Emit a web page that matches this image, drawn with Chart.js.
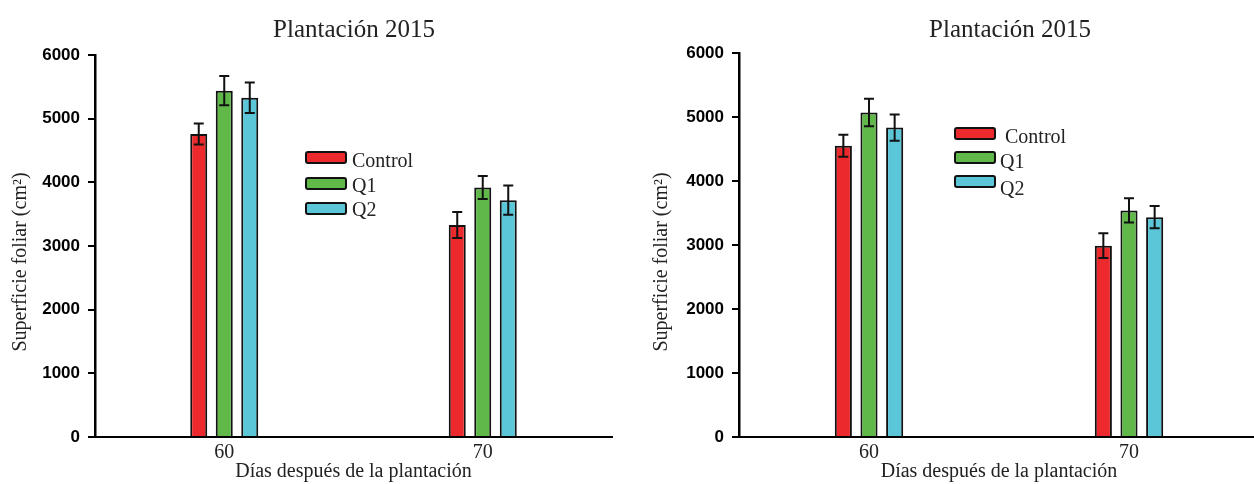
<!DOCTYPE html>
<html>
<head>
<meta charset="utf-8">
<script src="https://cdn.jsdelivr.net/npm/chart.js@4.4.1/dist/chart.umd.min.js"></script>
<style>
  html, body { margin: 0; padding: 0; background: #fff; overflow: hidden; width: 1254px; height: 484px; }
  canvas { position: absolute; top: 0; }
  #leftChart { left: 0; }
  #rightChart { left: 627px; }
</style>
</head>
<body>
<canvas id="leftChart" width="627" height="484"></canvas>
<canvas id="rightChart" width="640" height="484"></canvas>
<script>
// categories / labels
const days = ['60', '70'];
const seriesNames = ['Control', 'Q1', 'Q2'];
const yTicks = [0, 1000, 2000, 3000, 4000, 5000, 6000];
const panelTitle = 'Plantación 2015';
const xTitle = 'Días después de la plantación';
const yTitle = 'Superficie foliar (cm²)';

// left panel (means and error half-widths)
const leftControl = [4760, 3330];
const leftQ1 = [5440, 3920];
const leftQ2 = [5330, 3720];
const leftControlErr = [165, 205];
const leftQ1Err = [230, 180];
const leftQ2Err = [240, 230];

// right panel
const rightControl = [4550, 2990];
const rightQ1 = [5070, 3540];
const rightQ2 = [4835, 3435];
const rightControlErr = [172, 195];
const rightQ1Err = [215, 190];
const rightQ2Err = [205, 175];

const COLORS = ['#ec2a2d', '#5fb847', '#5bc6d8'];
const SERIF = '"Liberation Serif", "Times New Roman", serif';

// error bars drawn from dataset.err through the y scale
const errorBars = {
    id: 'errorBars',
    afterDatasetsDraw(chart) {
        const ctx = chart.ctx;
        const y = chart.scales.y;
        ctx.save();
        ctx.strokeStyle = '#111';
        ctx.lineWidth = 2;
        chart.data.datasets.forEach((ds, i) => {
            const meta = chart.getDatasetMeta(i);
            meta.data.forEach((bar, j) => {
                const v = ds.data[j], e = ds.err[j];
                const top = y.getPixelForValue(v + e);
                const bot = y.getPixelForValue(v - e);
                const cap = 5;
                ctx.beginPath();
                ctx.moveTo(bar.x, top); ctx.lineTo(bar.x, bot);
                ctx.moveTo(bar.x - cap, top); ctx.lineTo(bar.x + cap, top);
                ctx.moveTo(bar.x - cap, bot); ctx.lineTo(bar.x + cap, bot);
                ctx.stroke();
            });
        });
        ctx.restore();
    }
};

// title, rotated y title and the boxed legend
const panelDeco = {
    id: 'panelDeco',
    afterDraw(chart, args, opts) {
        const ctx = chart.ctx;
        ctx.save();
        ctx.fillStyle = '#222';
        ctx.textAlign = 'center';
        ctx.textBaseline = 'alphabetic';
        ctx.font = '25px ' + SERIF;
        ctx.fillText(panelTitle, opts.titleX, opts.titleY);

        ctx.save();
        ctx.translate(opts.yTitleX, opts.yTitleY);
        ctx.rotate(-Math.PI / 2);
        ctx.textBaseline = 'middle';
        ctx.font = '20px ' + SERIF;
        ctx.fillText(yTitle, 0, 0);
        ctx.restore();

        // legend
        ctx.textAlign = 'left';
        ctx.font = '20px ' + SERIF;
        chart.data.datasets.forEach((ds, i) => {
            const by = opts.boxYs[i];
            ctx.beginPath();
            ctx.roundRect(opts.boxX, by, 40, 11, 2);
            ctx.fillStyle = ds.backgroundColor;
            ctx.fill();
            ctx.lineWidth = 2;
            ctx.strokeStyle = '#111';
            ctx.stroke();
            ctx.fillStyle = '#222';
            ctx.fillText(ds.label, opts.textXs[i], opts.textYs[i]);
        });
        ctx.restore();
    }
};

function makeChart(id, series, errs, padding, deco) {
    return new Chart(document.getElementById(id), {
        type: 'bar',
        data: {
            labels: days,
            datasets: seriesNames.map((name, i) => ({
                label: name,
                data: series[i],
                err: errs[i],
                backgroundColor: COLORS[i],
                borderColor: '#111',
                borderWidth: 2,
                barPercentage: 0.667,
                categoryPercentage: 0.296
            }))
        },
        options: {
            responsive: false,
            animation: false,
            layout: { padding: padding },
            plugins: {
                legend: { display: false },
                tooltip: { enabled: false },
                panelDeco: deco
            },
            scales: {
                x: {
                    grid: { display: false, drawTicks: false },
                    border: { display: true, color: '#000', width: 2 },
                    ticks: { color: '#222', padding: 4, font: { family: SERIF, size: 20 } },
                    title: { display: true, text: xTitle, color: '#222', padding: 0, font: { family: SERIF, size: 20 } },
                    afterFit: s => { s.height = 47; }
                },
                y: {
                    min: 0,
                    max: 6000,
                    afterBuildTicks: s => { s.ticks = yTicks.map(v => ({ value: v })); },
                    grid: { drawOnChartArea: false, drawTicks: true, tickLength: 7, color: '#000', lineWidth: 2 },
                    border: { display: true, color: '#000', width: 2.5 },
                    ticks: {
                        color: '#000',
                        padding: 8,
                        font: { family: '"Liberation Sans", Arial, sans-serif', size: 17, weight: 'bold' },
                        callback: v => String(v)
                    },
                    afterFit: s => { s.width = deco.axisWidth; }
                }
            }
        },
        plugins: [errorBars, panelDeco]
    });
}

makeChart('leftChart',
    [leftControl, leftQ1, leftQ2],
    [leftControlErr, leftQ1Err, leftQ2Err],
    { left: 0, right: 15, top: 55, bottom: 0 },
    { axisWidth: 95, titleX: 354, titleY: 37, yTitleX: 21, yTitleY: 262,
      boxX: 306, boxYs: [152, 178, 203], textXs: [352, 352, 352], textYs: [167, 192, 216] });

makeChart('rightChart',
    [rightControl, rightQ1, rightQ2],
    [rightControlErr, rightQ1Err, rightQ2Err],
    { left: 0, right: 8, top: 53, bottom: 0 },
    { axisWidth: 112, titleX: 383, titleY: 37, yTitleX: 35, yTitleY: 262,
      boxX: 328, boxYs: [128, 152, 176], textXs: [378, 373, 373], textYs: [143, 168, 195] });
</script>
</body>
</html>
